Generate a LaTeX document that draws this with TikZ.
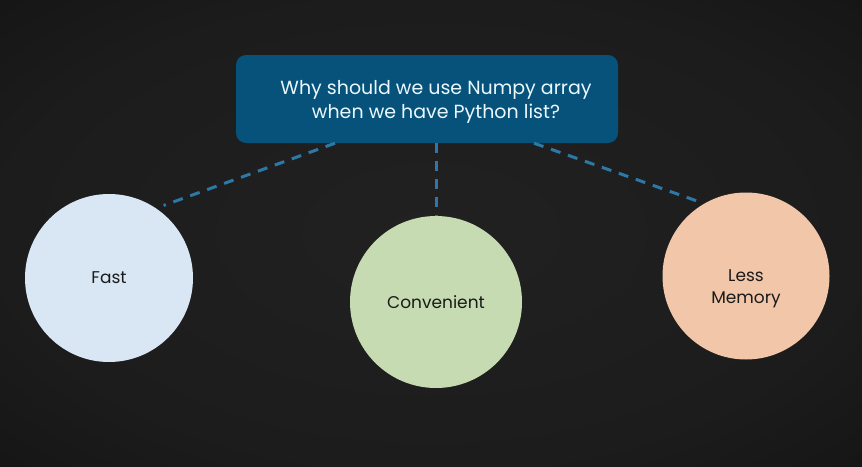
\documentclass[tikz,border=0pt]{standalone}
\usepackage{fontspec}
\setmainfont{Poppins}
\usepackage{tikz}

\definecolor{bgin}{HTML}{212121}
\definecolor{bgout}{HTML}{0D0D0D}
\definecolor{boxblue}{HTML}{06527A}
\definecolor{dashblue}{HTML}{2C78A6}
\definecolor{fastblue}{HTML}{D9E7F5}
\definecolor{convgreen}{HTML}{C6DBB1}
\definecolor{mempeach}{HTML}{F2C6A8}
\definecolor{inkdark}{HTML}{1A1A1A}

\pgfdeclareradialshading{vignette}{\pgfpoint{0bp}{0bp}}{color(0bp)=(bgin); color(25bp)=(bgin!75!bgout); color(50bp)=(bgout)}

\tikzset{
  bubble/.style={circle,inner sep=0pt,text=inkdark,align=center,font=\fontsize{17}{22}\selectfont},
  link/.style={dashblue,line width=3pt,dash pattern=on 10pt off 8pt}
}

\begin{document}
\begin{tikzpicture}[x=1pt,y=-1pt]
\shade[shading=vignette] (0,0) rectangle (862,466);
\useasboundingbox (0,0) rectangle (862,466);

\node[fill=boxblue,rounded corners=10pt,minimum width=382pt,minimum height=88pt] (q) at (427,99) {};
\node[text=white!92!cyan,align=center,font=\fontsize{19}{24}\selectfont] (qtxt) at (436,102)
  {Why should we use Numpy array\\when we have Python list?};

\node[bubble,fill=fastblue,minimum size=168pt] (fast) at (109,278) {Fast};
\node[bubble,fill=convgreen,minimum size=172pt] (conv) at (436,302) {Convenient};
\node[bubble,fill=mempeach,minimum size=167pt,
  label={[bubble,yshift=-13pt]center:Less\\Memory}] (mem) at (746,276) {};

\draw[link,shorten >=8pt] ([xshift=-92pt]q.south) -- (fast.56);
\draw[link] (q.south -| conv.north) -- (conv.north);
\draw[link,shorten >=4pt] ([xshift=107pt]q.south) -- (mem.120);

\end{tikzpicture}
\end{document}
